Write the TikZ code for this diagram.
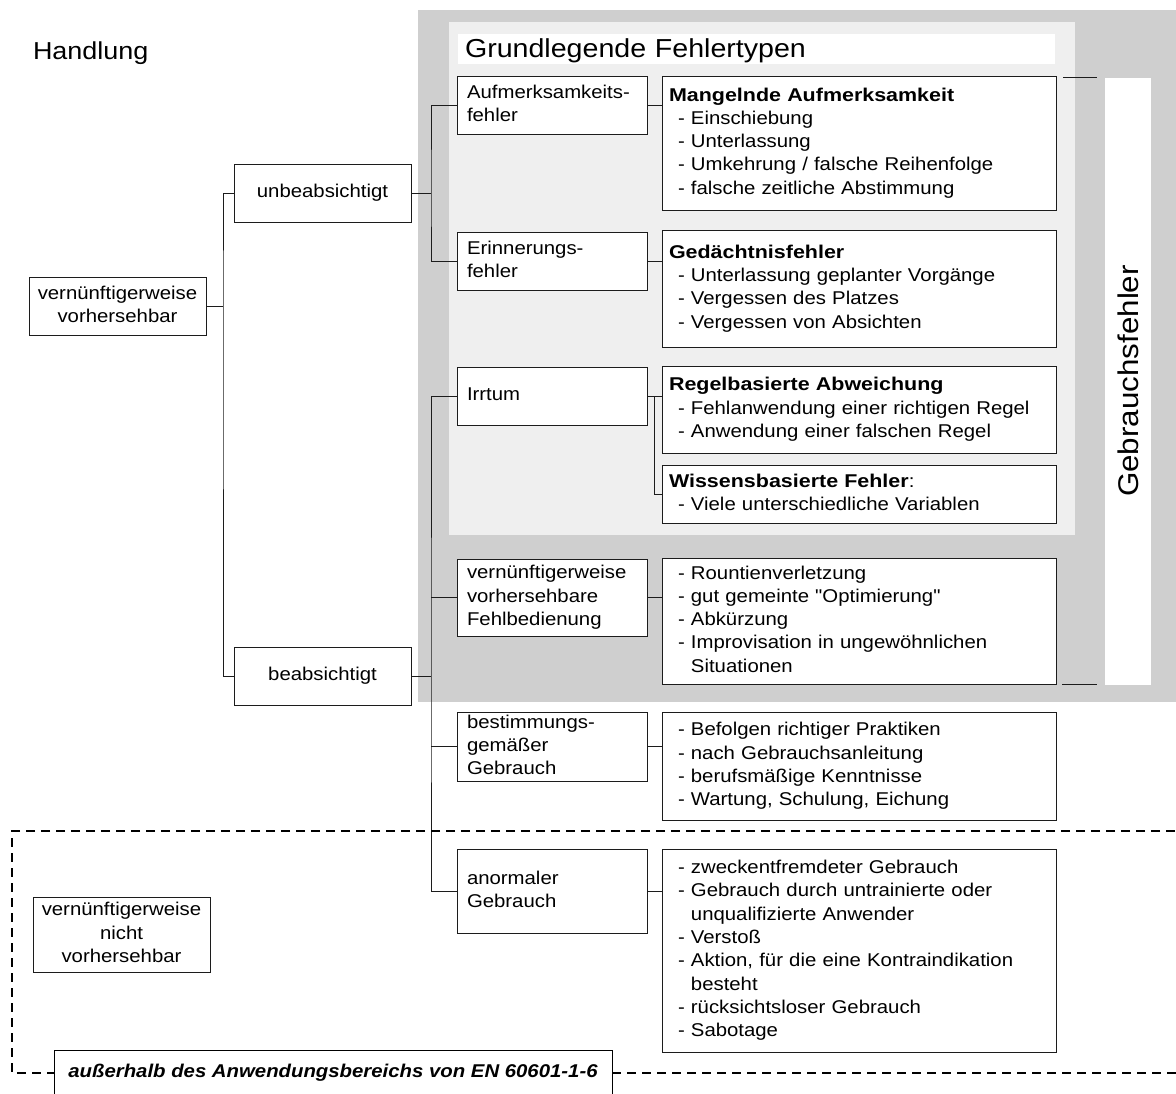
\documentclass[tikz,border=0pt]{standalone}
\usepackage{fontspec}
\setmainfont{Liberation Sans}[FakeStretch=1.1, Ligatures=TeXOff]
\newfontfamily\hdfont{Liberation Sans}[FakeStretch=1.16, Ligatures=TeXOff]
\usetikzlibrary{calc}

\definecolor{outergray}{RGB}{207,207,207}
\definecolor{innergray}{RGB}{239,239,239}
\definecolor{edge}{RGB}{28,28,28}

\newcommand\bodyfont{\fontsize{18.5}{23.3}\selectfont}
\newcommand\handfont{\fontsize{24.5}{29}\selectfont}
\newcommand\titlefont{\fontsize{26}{30}\selectfont}
\newcommand\colfont{\fontsize{28.5}{33}\selectfont}
% list entries: dash bullet and indented continuation line
\newcommand\litem[1]{\hspace*{9pt}- #1}
\newcommand\lcont[1]{\hspace*{9pt}\phantom{- }#1}
\newcommand\lhead[1]{{\hdfont\bfseries #1}}

\hyphenpenalty=10000
\exhyphenpenalty=10000

\begin{document}
\begin{tikzpicture}[x=1pt,y=-1pt,
  every node/.style={inner sep=0pt, outer sep=0pt, font=\bodyfont},
  boxbase/.style={draw=edge, line width=1pt, fill=white, anchor=north west,
    execute at begin node=\strut, execute at end node=\strut},
  lft/.style={boxbase, align=center, text width=171pt, inner xsep=3pt},
  cat/.style={boxbase, align=left, text width=170pt, inner xsep=10pt},
  det/.style={boxbase, align=left, text width=380pt, inner xsep=7pt},
  conn/.style={draw=edge, line width=1pt},
  dashline/.style={draw=black, line width=2.4pt, dash pattern=on 9pt off 6pt},
]
\useasboundingbox (0,0) rectangle (1176,1093);

% shaded areas for the use-error region and the basic error types
\fill[outergray] (418,10) rectangle (1176,702);
\fill[innergray] (449,22) rectangle (1075,535);

% headings
\node[anchor=base west, font=\handfont] (hand) at (33,59) {Handlung};
\node[fill=white, anchor=north west, align=left, text width=583pt, inner xsep=7pt,
      inner ysep=2pt, text height=21pt, text depth=5pt, font=\titlefont]
      (title) at (458,34) {Grundlegende Fehlertypen};

% vertical label column
\node[fill=white, rotate=90, minimum width=607, minimum height=46, font=\colfont]
      (gf) at (1128,381) {Gebrauchsfehler};

% first and second level
\node[lft, minimum height=58] (vern) at (29,277) {vernünftigerweise\\vorhersehbar};
\node[lft, minimum height=58] (unb) at (234,164) {unbeabsichtigt};
\node[lft, minimum height=58] (bea) at (234,647) {beabsichtigt};
\node[lft, minimum height=75] (vnn) at (33,897) {vernünftigerweise\\nicht\\vorhersehbar};

% third level
\node[cat, minimum height=58] (auf) at (457,76) {Aufmerksamkeits-\\fehler};
\node[cat, minimum height=58] (eri) at (457,232) {Erinnerungs-\\fehler};
\node[cat, minimum height=58] (irr) at (457,367) {Irrtum};
\node[cat, minimum height=77] (fb) at (457,559) {vernünftigerweise\\vorhersehbare\\Fehlbedienung};
\node[cat, minimum height=68] (bg) at (457,712) {bestimmungs-\\gemäßer\\Gebrauch};
\node[cat, minimum height=84] (ag) at (457,849) {anormaler\\Gebrauch};

% detail boxes
\node[det, minimum height=134] (mang) at (662,76) {\lhead{Mangelnde Aufmerksamkeit}\\
  \litem{Einschiebung}\\ \litem{Unterlassung}\\
  \litem{Umkehrung / falsche Reihenfolge}\\ \litem{falsche zeitliche Abstimmung}};
\node[det, minimum height=117] (ged) at (662,230) {\lhead{Gedächtnisfehler}\\
  \litem{Unterlassung geplanter Vorgänge}\\ \litem{Vergessen des Platzes}\\
  \litem{Vergessen von Absichten}};
\node[det, minimum height=87] (reg) at (662,366) {\lhead{Regelbasierte Abweichung}\\
  \litem{Fehlanwendung einer richtigen Regel}\\ \litem{Anwendung einer falschen Regel}};
\node[det, minimum height=58] (wis) at (662,465) {\lhead{Wissensbasierte Fehler}:\\
  \litem{Viele unterschiedliche Variablen}};
\node[det, minimum height=126] (fbd) at (662,558) {\litem{Rountienverletzung}\\
  \litem{gut gemeinte "Optimierung"}\\ \litem{Abkürzung}\\
  \litem{Improvisation in ungewöhnlichen}\\ \lcont{Situationen}};
\node[det, minimum height=108] (bgd) at (662,712) {\litem{Befolgen richtiger Praktiken}\\
  \litem{nach Gebrauchsanleitung}\\ \litem{berufsmäßige Kenntnisse}\\
  \litem{Wartung, Schulung, Eichung}};
\node[det, minimum height=203] (agd) at (662,849) {\litem{zweckentfremdeter Gebrauch}\\
  \litem{Gebrauch durch untrainierte oder}\\ \lcont{unqualifizierte Anwender}\\
  \litem{Verstoß}\\ \litem{Aktion, für die eine Kontraindikation}\\ \lcont{besteht}\\
  \litem{rücksichtsloser Gebrauch}\\ \litem{Sabotage}};

% tree connectors
\draw[conn] (vern.east) -- ++(17,0) coordinate (v1);
\draw[conn] (unb.west) -| (v1) |- (bea.west);

\draw[conn] (unb.east) -- ++(20,0) coordinate (u1);
\draw[conn] (auf.west) -| (u1) |- (eri.west);

\draw[conn] (bea.east) -- ++(20,0) coordinate (b1);
\draw[conn] (irr.west) -| (b1) |- (ag.west);
\draw[conn] (b1 |- fb.west) -- (fb.west);
\draw[conn] (b1 |- bg.west) -- (bg.west);

\draw[conn] (irr.east) -- (irr.east -| reg.west);
\draw[conn] (irr.east) ++(7,0) |- (wis.west);

\draw[conn] (auf.east) -- (auf.east -| mang.west);
\draw[conn] (eri.east) -- (eri.east -| ged.west);
\draw[conn] (fb.east) -- (fb.east -| fbd.west);
\draw[conn] (bg.east) -- (bg.east -| bgd.west);
\draw[conn] (ag.east) -- (ag.east -| agd.west);

% bracket ends beside the label column
\draw[conn] ([xshift=7pt,yshift=-1pt]mang.north east) -- ++(34,0);
\draw[conn] ([xshift=6pt]fbd.south east) -- ++(35,0);

% scope boundary
\node[draw=black, line width=1pt, fill=white, anchor=north west, minimum width=558,
      minimum height=46, font=\bodyfont\bfseries\itshape]
      (ext) at (54,1050) {außerhalb des Anwendungsbereichs von EN 60601-1-6};
\draw[dashline] (1190,831) -- (12,831) -- (12,1073) -- (ext.west);
\draw[dashline] (ext.east) -- (1190,1073);
\end{tikzpicture}
\end{document}
